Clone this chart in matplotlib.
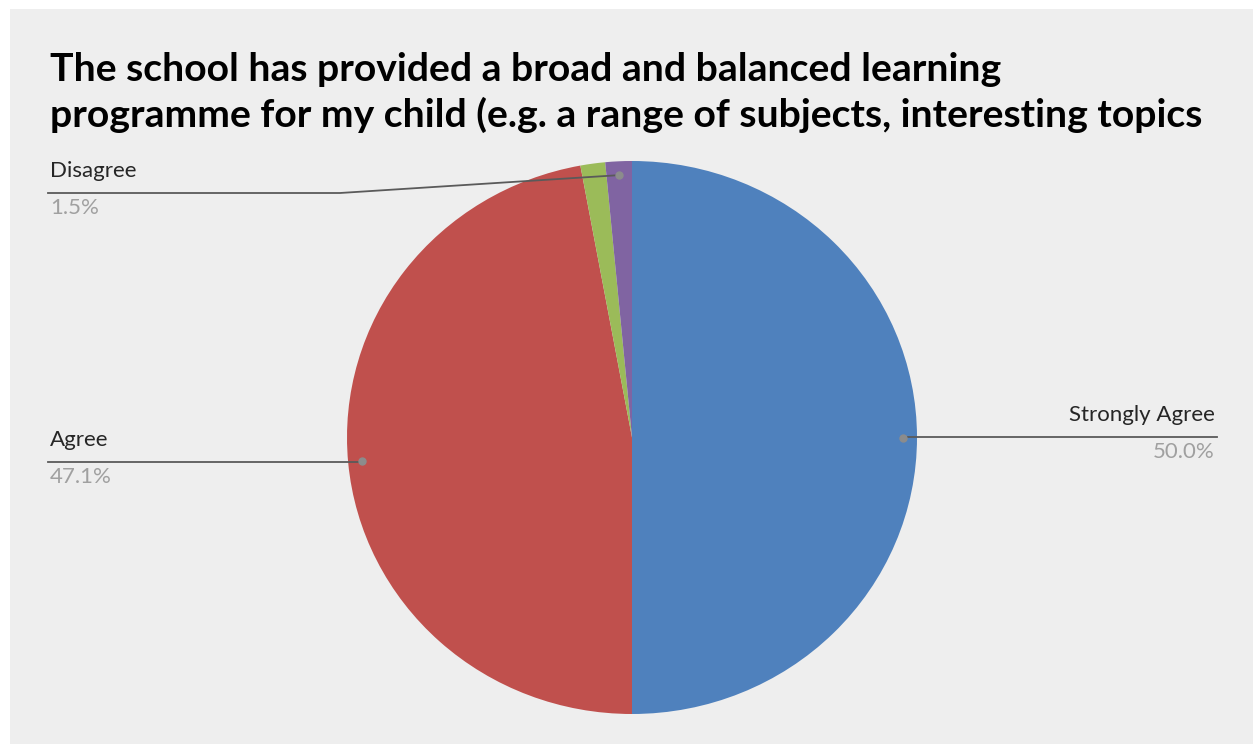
import numpy as np
import matplotlib
matplotlib.use("Agg")
import matplotlib.pyplot as plt
from matplotlib.lines import Line2D
from matplotlib.patches import Rectangle

W, H = 1253, 744

title_lines = ["The school has provided a broad and balanced learning",
               "programme for my child (e.g. a range of subjects, interesting topics"]
categories = ["Strongly Agree", "Agree", "Don't know", "Disagree"]
values = [50.0, 47.1, 1.4, 1.5]
colors = ["#4F81BD", "#C0504D", "#9BBB59", "#8064A2"]
show_label = [True, True, False, True]

# label layout in pixels: (text x, leader line y, alignment)
label_pos = {
    "Strongly Agree": (1215, 437, "right"),
    "Agree": (50, 462, "left"),
    "Disagree": (50, 193, "left"),
}
FONT = "Lato"


def fx(px):
    return px / W


def fy(py):
    return 1 - py / H


def fit_size(text, target_px, weight="normal", start=20):
    # pick a font size that makes text about target_px wide
    t = fig.text(0, 0, text, fontsize=start, family=FONT, fontweight=weight)
    w = t.get_window_extent(renderer=fig.canvas.get_renderer()).width
    t.remove()
    return start * target_px / w


fig = plt.figure(figsize=(W / 100, H / 100), dpi=100, facecolor="white")
fig.patches.append(Rectangle((fx(10), 0), 1 - fx(10), fy(9), transform=fig.transFigure,
                             facecolor="#EEEEEE", edgecolor="none", zorder=-10))

tsize = fit_size(title_lines[1], 1205 - 50, weight="bold")
for line, base in zip(title_lines, [81, 127]):
    fig.text(fx(50), fy(base), line, fontsize=tsize, fontweight="bold", family=FONT,
             ha="left", va="baseline", color="black")

ax = fig.add_axes([fx(347), fy(714), (917 - 347) / W, (714 - 161) / H])
wedges, _ = ax.pie(values, colors=colors, startangle=90, counterclock=False,
                   wedgeprops=dict(linewidth=0))
ax.set_aspect("auto")
ax.set_xlim(-1, 1)
ax.set_ylim(-1, 1)
ax.axis("off")

fig.canvas.draw()
to_fig = ax.transData + fig.transFigure.inverted()
lsize = fit_size("Strongly Agree", 146)

for w, cat, val, show in zip(wedges, categories, values, show_label):
    if not show:
        continue
    mid = np.deg2rad((w.theta1 + w.theta2) / 2)
    dot = to_fig.transform((0.95 * np.cos(mid), 0.95 * np.sin(mid)))
    tx, ly, ha = label_pos[cat]
    if ha == "right":
        xs = [dot[0], fx(tx + 2)]
        ys = [fy(ly), fy(ly)]
    elif abs(dot[1] - fy(ly)) > 0.01:
        xs = [dot[0], fx(340), fx(tx - 2)]
        ys = [dot[1], fy(ly), fy(ly)]
    else:
        xs = [dot[0], fx(tx - 2)]
        ys = [fy(ly), fy(ly)]
    fig.add_artist(Line2D(xs, ys, transform=fig.transFigure, color="#5A5A5A", lw=1.3))
    fig.add_artist(Line2D([dot[0]], [dot[1]], transform=fig.transFigure, marker="o",
                          markersize=5, color="#8C8C8C", lw=0))
    fig.text(fx(tx), fy(ly - 16), cat, fontsize=lsize, family=FONT, color="#262626",
             ha=ha, va="baseline")
    fig.text(fx(tx), fy(ly + 21), f"{val:.1f}%", fontsize=lsize, family=FONT,
             color="#A0A0A0", ha=ha, va="baseline")

fig.savefig("out.png", dpi=100, facecolor="white")
